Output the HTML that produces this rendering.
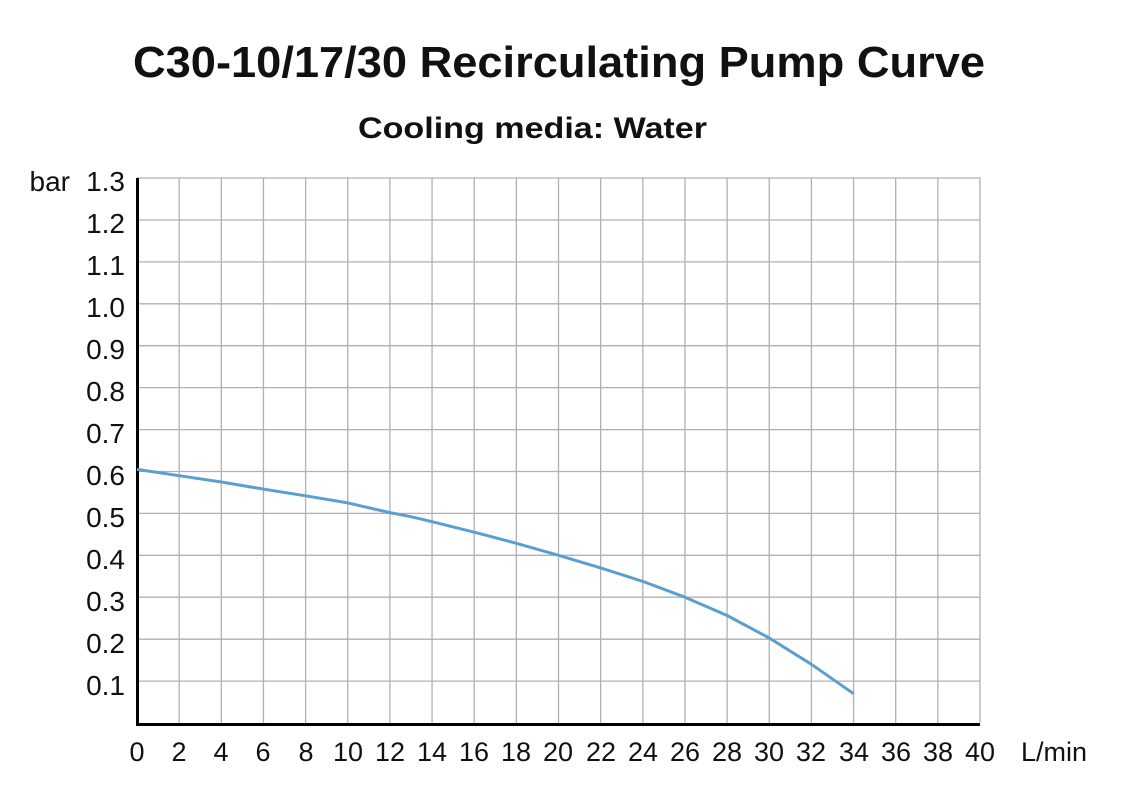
<!DOCTYPE html>
<html><head><meta charset="utf-8"><style>
html,body{margin:0;padding:0;background:#fff;}
svg{display:block;}
</style></head><body>
<svg width="1124" height="804" viewBox="0 0 1124 804" xmlns="http://www.w3.org/2000/svg">
<rect width="1124" height="804" fill="#fff"/>
<text x="133" y="77" textLength="852" lengthAdjust="spacingAndGlyphs" font-family="Liberation Sans, sans-serif" font-weight="bold" font-size="44" fill="#111">C30-10/17/30 Recirculating Pump Curve</text>
<text x="358" y="138" textLength="349" lengthAdjust="spacingAndGlyphs" font-family="Liberation Sans, sans-serif" font-weight="bold" font-size="30" fill="#111">Cooling media: Water</text>
<g stroke="#b0b0b0" stroke-width="1.3" fill="none">
<path d="M179.15 178V723M221.3 178V723M263.45 178V723M305.6 178V723M347.75 178V723M389.9 178V723M432.05 178V723M474.2 178V723M516.35 178V723M558.5 178V723M600.65 178V723M642.8 178V723M684.95 178V723M727.1 178V723M769.25 178V723M811.4 178V723M853.55 178V723M895.7 178V723M937.85 178V723"/>
<path d="M137 681.1H980M137 639.2H980M137 597.2H980M137 555.3H980M137 513.4H980M137 471.5H980M137 429.6H980M137 387.6H980M137 345.7H980M137 303.8H980M137 261.9H980M137 220H980"/>
<path d="M137 178H980V723"/>
</g>
<path d="M137.5 178V724.5H980" stroke="#000" stroke-width="3" fill="none"/>
<path d="M137 469.4 L179.2 475.7 L221.3 482 L263.5 489.1 L305.6 495.8 L347.8 502.9 L389.9 512.6 L411 516.7 L432 521.7 L474.2 532.2 L516.4 543.3 L558.5 555.3 L600.7 567.9 L642.8 581.4 L685 597.2 L727.1 615.5 L769.3 638 L811.4 664.3 L853.6 693.7" stroke="#5b9fd0" stroke-width="3" fill="none" stroke-linejoin="round"/>
<g font-family="Liberation Sans, sans-serif" font-size="28" fill="#111" text-anchor="end">
<text x="125" y="191">1.3</text><text x="125" y="233">1.2</text><text x="125" y="275">1.1</text><text x="125" y="317">1.0</text><text x="125" y="359">0.9</text><text x="125" y="401">0.8</text><text x="125" y="443">0.7</text><text x="125" y="485">0.6</text><text x="125" y="527">0.5</text><text x="125" y="569">0.4</text><text x="125" y="611">0.3</text><text x="125" y="653">0.2</text><text x="125" y="695">0.1</text>
<text x="70" y="191">bar</text>
</g>
<g font-family="Liberation Sans, sans-serif" font-size="27" fill="#111" text-anchor="middle">
<text x="137" y="761">0</text><text x="179" y="761">2</text><text x="221" y="761">4</text><text x="263" y="761">6</text><text x="306" y="761">8</text><text x="348" y="761">10</text><text x="390" y="761">12</text><text x="432" y="761">14</text><text x="474" y="761">16</text><text x="516" y="761">18</text><text x="558" y="761">20</text><text x="601" y="761">22</text><text x="643" y="761">24</text><text x="685" y="761">26</text><text x="727" y="761">28</text><text x="769" y="761">30</text><text x="811" y="761">32</text><text x="854" y="761">34</text><text x="896" y="761">36</text><text x="938" y="761">38</text><text x="980" y="761">40</text>
<text x="1054" y="761">L/min</text>
</g>
</svg>
</body></html>
